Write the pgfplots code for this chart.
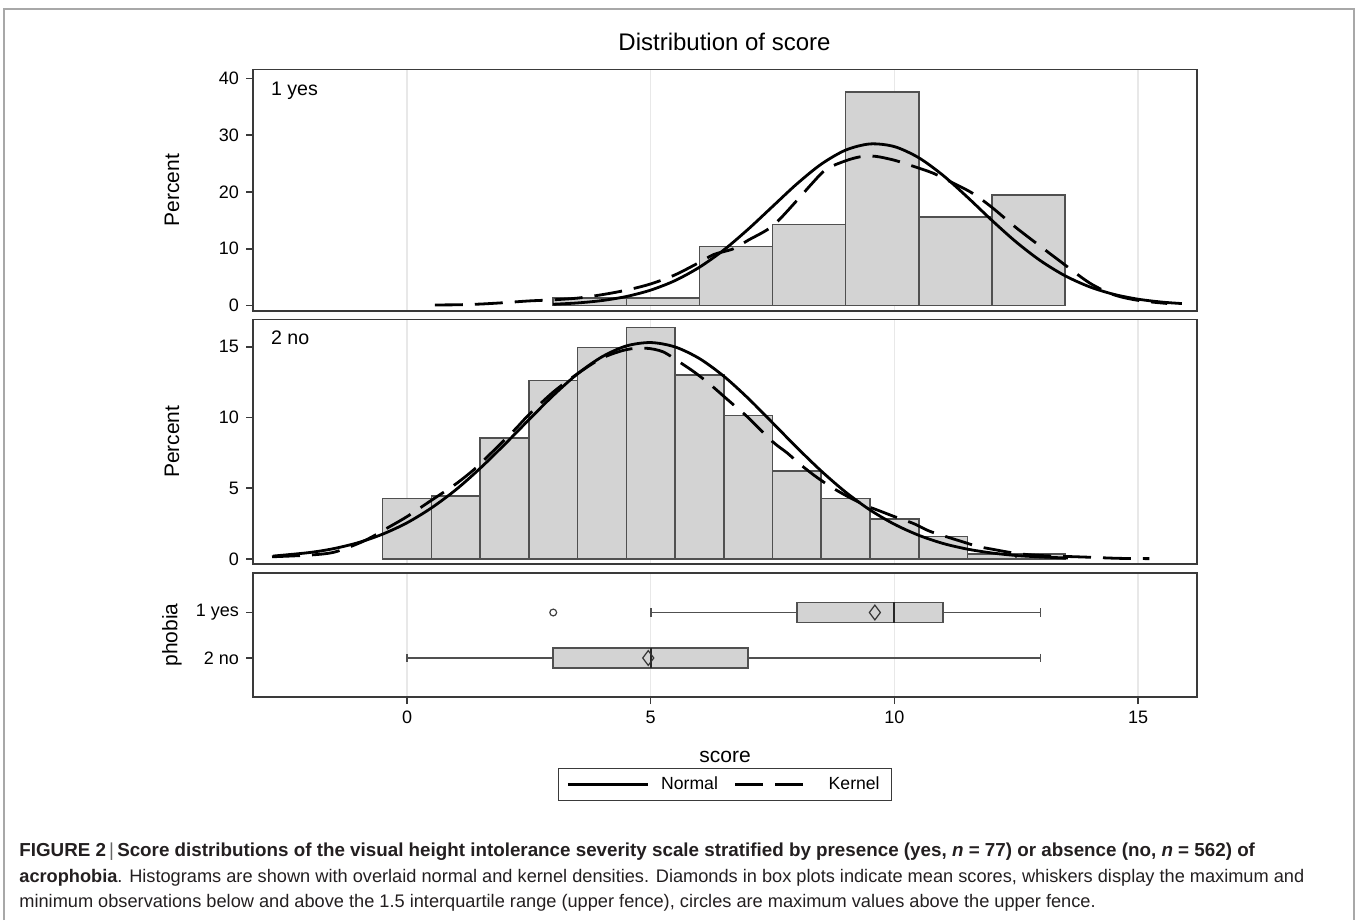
\documentclass[border=0pt]{standalone}
\usepackage{fontspec}
\setmainfont{Liberation Sans}
\usepackage{pgfplots}
\pgfplotsset{compat=1.18}
\usepgfplotslibrary{statistics}
\definecolor{barfill}{HTML}{D3D3D3}
\definecolor{bardraw}{HTML}{505050}
\definecolor{axisc}{HTML}{3A3A3A}
\definecolor{gridc}{HTML}{E8E8E8}
\definecolor{framec}{HTML}{A8A8A8}
\definecolor{capc}{HTML}{231F20}
\pgfplotsset{
 panel/.style={
  scale only axis, width=472pt, xmin=-3.16, xmax=16.21,
  axis line style={axisc, line width=0.9pt},
  every tick/.style={axisc, line width=0.8pt},
  major tick length=3.5pt, tick align=outside,
  xmajorgrids, major grid style={gridc, line width=0.6pt},
  xtick={0,5,10,15},
  ytick pos=left,
  tick label style={font=\fontsize{9}{10}\selectfont},
  /pgf/number format/assume math mode=true,
  label style={font=\fontsize{10.5}{12}\selectfont},
  ylabel style={at={(axis description cs:-0.0858,0.5)}, anchor=center},
 },
}
\begin{document}
\begin{tikzpicture}
\useasboundingbox (0pt,0pt) rectangle (679pt,460pt);
\draw[framec, line width=0.8pt] (2pt,0pt) -- (2pt,455.5pt) -- (677pt,455.5pt) -- (677pt,0pt);
\node[anchor=base, font=\fontsize{12}{14}\selectfont] at (362.25pt,434.5pt) {Distribution of score};

% top panel: 1 yes
\begin{axis}[panel, at={(126.5pt,304.5pt)}, anchor=south west, height=120.75pt,
  ymin=-0.97, ymax=41.59, ytick={0,10,20,30,40},
  xticklabels={}, xtick style={draw=none}, ylabel={Percent}]
\addplot[ybar interval, fill=barfill, draw=bardraw, line width=0.8pt] coordinates {
 (3,1.30) (4.5,1.30) (6,10.39) (7.5,14.29) (9,37.66) (10.5,15.58) (12,19.48) (13.5,0)};
\addplot[black, line width=1.4pt, smooth] coordinates {
 (3,0.22) (3.5,0.45) (4,0.87) (4.5,1.58) (5,2.71) (5.5,4.39) (6,6.74) (6.5,9.78)
 (7,13.44) (7.5,17.44) (8,21.43) (8.5,24.91) (9,27.38) (9.5,28.47) (10,28.0)
 (10.5,26.04) (11,22.92) (11.5,19.08) (12,15.01) (12.5,11.18) (13,7.88) (13.5,5.25)
 (14,3.31) (14.5,1.97) (15,1.11) (15.5,0.59) (15.9,0.34)};
\addplot[black, line width=1.4pt, smooth, dash pattern=on 14pt off 6pt] coordinates {
 (0.57,0.1) (1.0,0.12) (1.5,0.25) (2.0,0.5) (2.5,0.8) (3.0,1.0) (3.5,1.3) (4.0,1.9)
 (4.5,2.7) (5.0,3.8) (5.5,5.4) (6.0,7.6) (6.3,9.0) (6.7,10.0) (7.0,11.5) (7.5,14.0)
 (8.0,18.5) (8.3,21.4) (8.6,24.0) (9.0,25.5) (9.3,26.2) (9.6,26.3) (10.0,25.6)
 (10.4,24.5) (10.8,23.3) (11.2,21.6) (11.6,19.8) (12.0,17.3) (12.5,13.7) (13.0,10.4)
 (13.4,7.8) (14.0,4.0) (14.5,1.9) (15.0,0.9) (15.6,0.35)};
\end{axis}

% middle panel: 2 no
\begin{axis}[panel, at={(126.5pt,178pt)}, anchor=south west, height=122.25pt,
  ymin=-0.35, ymax=16.93, ytick={0,5,10,15},
  xticklabels={}, xtick style={draw=none}, ylabel={Percent}]
\addplot[ybar interval, fill=barfill, draw=bardraw, line width=0.8pt] coordinates {
 (-0.5,4.27) (0.5,4.45) (1.5,8.54) (2.5,12.63) (3.5,14.95) (4.5,16.37) (5.5,12.99)
 (6.5,10.14) (7.5,6.23) (8.5,4.27) (9.5,2.85) (10.5,1.60) (11.5,0.36) (12.5,0.36) (13.5,0)};
\addplot[black, line width=1.4pt, smooth] coordinates {
 (-2.75,0.21) (-2,0.46) (-1.5,0.74) (-1,1.16) (-0.5,1.76) (0,2.56) (0.5,3.61) (1,4.89)
 (1.5,6.41) (2,8.09) (2.5,9.84) (3,11.56) (3.5,13.09) (4,14.29) (4.5,15.06) (5,15.3)
 (5.5,14.99) (6,14.17) (6.5,12.92) (7,11.36) (7.5,9.63) (8,7.88) (8.5,6.22) (9,4.73)
 (9.5,3.47) (10,2.46) (10.5,1.68) (11,1.10) (11.5,0.70) (12,0.43) (12.5,0.25) (13,0.15)
 (13.56,0.07)};
\addplot[black, line width=1.4pt, smooth, dash pattern=on 14pt off 6pt] coordinates {
 (-2.77,0.16) (-2.0,0.28) (-1.5,0.48) (-1.0,1.1) (-0.7,1.6) (-0.4,2.2) (0,3.0) (0.5,4.15)
 (1.0,5.3) (1.4,6.4) (1.7,7.4) (2.2,9.1) (2.5,10.2) (3.0,11.8) (3.5,13.1) (4.0,14.2)
 (4.5,14.8) (4.9,14.9) (5.25,14.65) (5.6,13.9) (5.9,13.2) (6.2,12.4) (6.5,11.5)
 (6.8,10.6) (7.0,10.0) (7.5,8.3) (7.8,7.5) (8.1,6.6) (8.4,5.8) (8.7,5.1) (9.0,4.5)
 (9.4,3.8) (9.7,3.4) (10.0,3.0) (10.4,2.5) (10.7,2.0) (11.0,1.65) (11.4,1.22) (11.7,0.9)
 (12.0,0.7) (12.5,0.4) (13.0,0.25) (13.9,0.14) (14.6,0.05) (15.23,0.03)};
\end{axis}

% box plot panel
\begin{axis}[panel, at={(126.5pt,111.5pt)}, anchor=south west, height=62.15pt,
  ymin=0.125, ymax=2.857, y dir=reverse, ytick={1,2}, yticklabels={1 yes,2 no},
  xtick pos=bottom, xlabel={score}, ylabel={phobia},
  xlabel style={at={(axis description cs:0.5,-0.483)}, anchor=center},
  boxplot/draw direction=x,
  boxplot/every box/.style={fill=barfill, draw=bardraw, line width=0.8pt},
  boxplot/every whisker/.style={draw=bardraw, line width=0.9pt},
  boxplot/every median/.style={draw=black!85, line width=1pt},
  legend columns=2,
  legend style={at={(0.5,-0.704)}, anchor=center, draw=axisc, line width=0.8pt,
    font=\fontsize{8.8}{10}\selectfont, inner xsep=4pt, inner ysep=2pt,
    /tikz/every odd column/.append style={column sep=4pt},
    /tikz/every even column/.append style={column sep=6pt}},
  legend image code/.code={\draw[#1] (0pt,0pt) -- (40pt,0pt);}]
\addplot[boxplot prepared={lower whisker=5, lower quartile=8, median=10,
  upper quartile=11, upper whisker=13, draw position=1, box extend=0.44,
  whisker extend=0.18}, draw=bardraw, forget plot] coordinates {};
\addplot[boxplot prepared={lower whisker=0, lower quartile=3, median=5,
  upper quartile=7, upper whisker=13, draw position=2, box extend=0.44,
  whisker extend=0.18}, draw=bardraw, forget plot] coordinates {};
\addplot[only marks, mark=diamond, mark size=3.7pt, draw=black!80, line width=0.6pt, forget plot]
  coordinates {(9.6,1) (4.95,2)};
\addplot[only marks, mark=o, mark size=1.7pt, draw=black!75, line width=0.6pt, forget plot]
  coordinates {(3,1)};
\addlegendimage{black, line width=1.4pt}
\addlegendentry{Normal}
\addlegendimage{black, line width=1.4pt, dash pattern=on 14pt off 6pt}
\addlegendentry{Kernel}
\end{axis}

\node[anchor=base west, font=\fontsize{9.8}{11}\selectfont] at (132pt,412pt) {1 yes};
\node[anchor=base west, font=\fontsize{9.8}{11}\selectfont] at (132pt,287.5pt) {2 no};

\begin{scope}[color=capc]
\node[anchor=base west, inner sep=0pt, font=\fontsize{9.4}{11}\selectfont] at (9.5pt,31.5pt) {\textbf{FIGURE 2}\,\textcolor{black!60}{|}\,\textbf{Score distributions of the visual height intolerance severity scale stratified by presence (yes, \textit{n} = 77) or absence (no, \textit{n} = 562) of}};
\node[anchor=base west, inner sep=0pt, font=\fontsize{9.1}{11}\selectfont] at (9.5pt,19pt) {\textbf{acrophobia}. Histograms are shown with overlaid normal and kernel densities. Diamonds in box plots indicate mean scores, whiskers display the maximum and};
\node[anchor=base west, inner sep=0pt, font=\fontsize{9.1}{11}\selectfont] at (9.5pt,6.5pt) {minimum observations below and above the 1.5 interquartile range (upper fence), circles are maximum values above the upper fence.};
\end{scope}
\end{tikzpicture}
\end{document}
